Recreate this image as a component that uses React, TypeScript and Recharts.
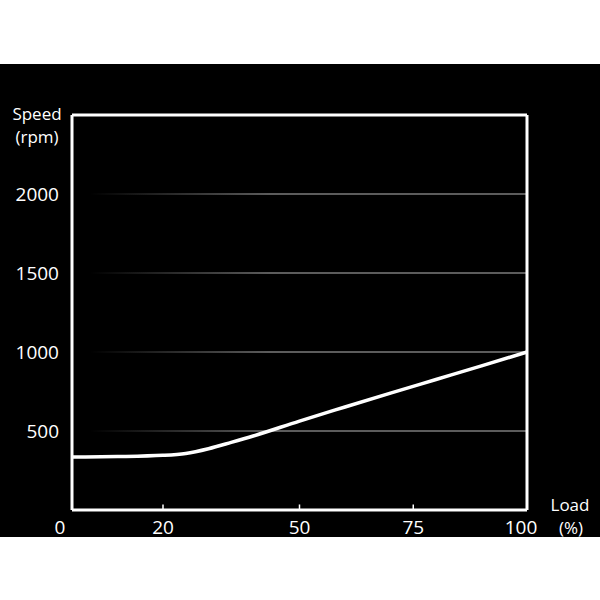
import React from 'react';
import { LineChart, Line, XAxis, YAxis, CartesianGrid, ReferenceLine, Label } from 'recharts';

// Load (%) vs. motor speed (rpm)
const loadPct = [0, 10, 20, 25, 30, 35, 40, 50, 60, 70, 80, 90, 100];
const speedRpm = [335, 338, 346, 358, 388, 428, 470, 563, 652, 740, 826, 912, 1000];
const xTicks = [0, 20, 50, 75, 100];
const yTicks = [500, 1000, 1500, 2000];
const innerTicks = [20, 50, 75];

const data = loadPct.map((load, i) => ({ load, speed: speedRpm[i] }));

const FONT = '"Open Sans", sans-serif';

const XTick = (props: any) => {
  const { x, y, payload } = props;
  const v = payload.value;
  const dx = v === 0 ? -12 : v === 100 ? -6 : 0;
  return (
    <text x={x + dx} y={y + 24} textAnchor="middle" fill="#fff" fontSize={19} fontFamily={FONT}>
      {v}
    </text>
  );
};

const YTitle = () => (
  <g fill="#fff" fontSize={17} fontFamily={FONT} textAnchor="middle">
    <text x={37} y={56}>Speed</text>
    <text x={37} y={79}>(rpm)</text>
  </g>
);

const XTitle = () => (
  <g fill="#fff" fontSize={17} fontFamily={FONT} textAnchor="middle">
    <text x={570} y={447}>Load</text>
    <text x={571} y={470}>(%)</text>
  </g>
);

export default function App() {
  return (
    <div
      style={{
        position: 'absolute',
        left: 0,
        top: 64,
        width: 600,
        height: 473,
        background: '#000',
      }}
    >
      <svg width={0} height={0} style={{ position: 'absolute' }}>
        <defs>
          <linearGradient id="gridFade" gradientUnits="userSpaceOnUse" x1={90} y1={0} x2={270} y2={0}>
            <stop offset="0%" stopColor="#5c5c5c" stopOpacity={0} />
            <stop offset="100%" stopColor="#5c5c5c" stopOpacity={1} />
          </linearGradient>
        </defs>
      </svg>
      <LineChart
        width={600}
        height={482}
        data={data}
        margin={{ top: 51, right: 73, bottom: 9, left: 0 }}
      >
        <CartesianGrid vertical={false} stroke="url(#gridFade)" strokeWidth={2} />
        <XAxis
          dataKey="load"
          type="number"
          domain={[0, 100]}
          ticks={xTicks}
          height={27}
          tickSize={0}
          tickMargin={0}
          tickLine={false}
          axisLine={{ stroke: '#fff', strokeWidth: 3 }}
          tick={<XTick />}
          interval={0}
        >
          <Label content={<XTitle />} />
        </XAxis>
        <YAxis
          type="number"
          domain={[0, 2500]}
          ticks={yTicks}
          width={72}
          tickSize={0}
          tickMargin={13}
          tickLine={false}
          axisLine={{ stroke: '#fff', strokeWidth: 3 }}
          tick={{ fill: '#fff', fontSize: 19, fontFamily: FONT }}
          interval={0}
        >
          <Label content={<YTitle />} />
        </YAxis>
        <ReferenceLine y={2500} stroke="#fff" strokeWidth={3} />
        <ReferenceLine x={100} stroke="#fff" strokeWidth={3} />
        {innerTicks.map((t) => (
          <ReferenceLine
            key={t}
            segment={[
              { x: t, y: 0 },
              { x: t, y: 35 },
            ]}
            stroke="#fff"
            strokeWidth={1.5}
          />
        ))}
        <Line
          type="monotone"
          dataKey="speed"
          stroke="#fff"
          strokeWidth={3.5}
          dot={false}
          isAnimationActive={false}
        />
      </LineChart>
    </div>
  );
}
